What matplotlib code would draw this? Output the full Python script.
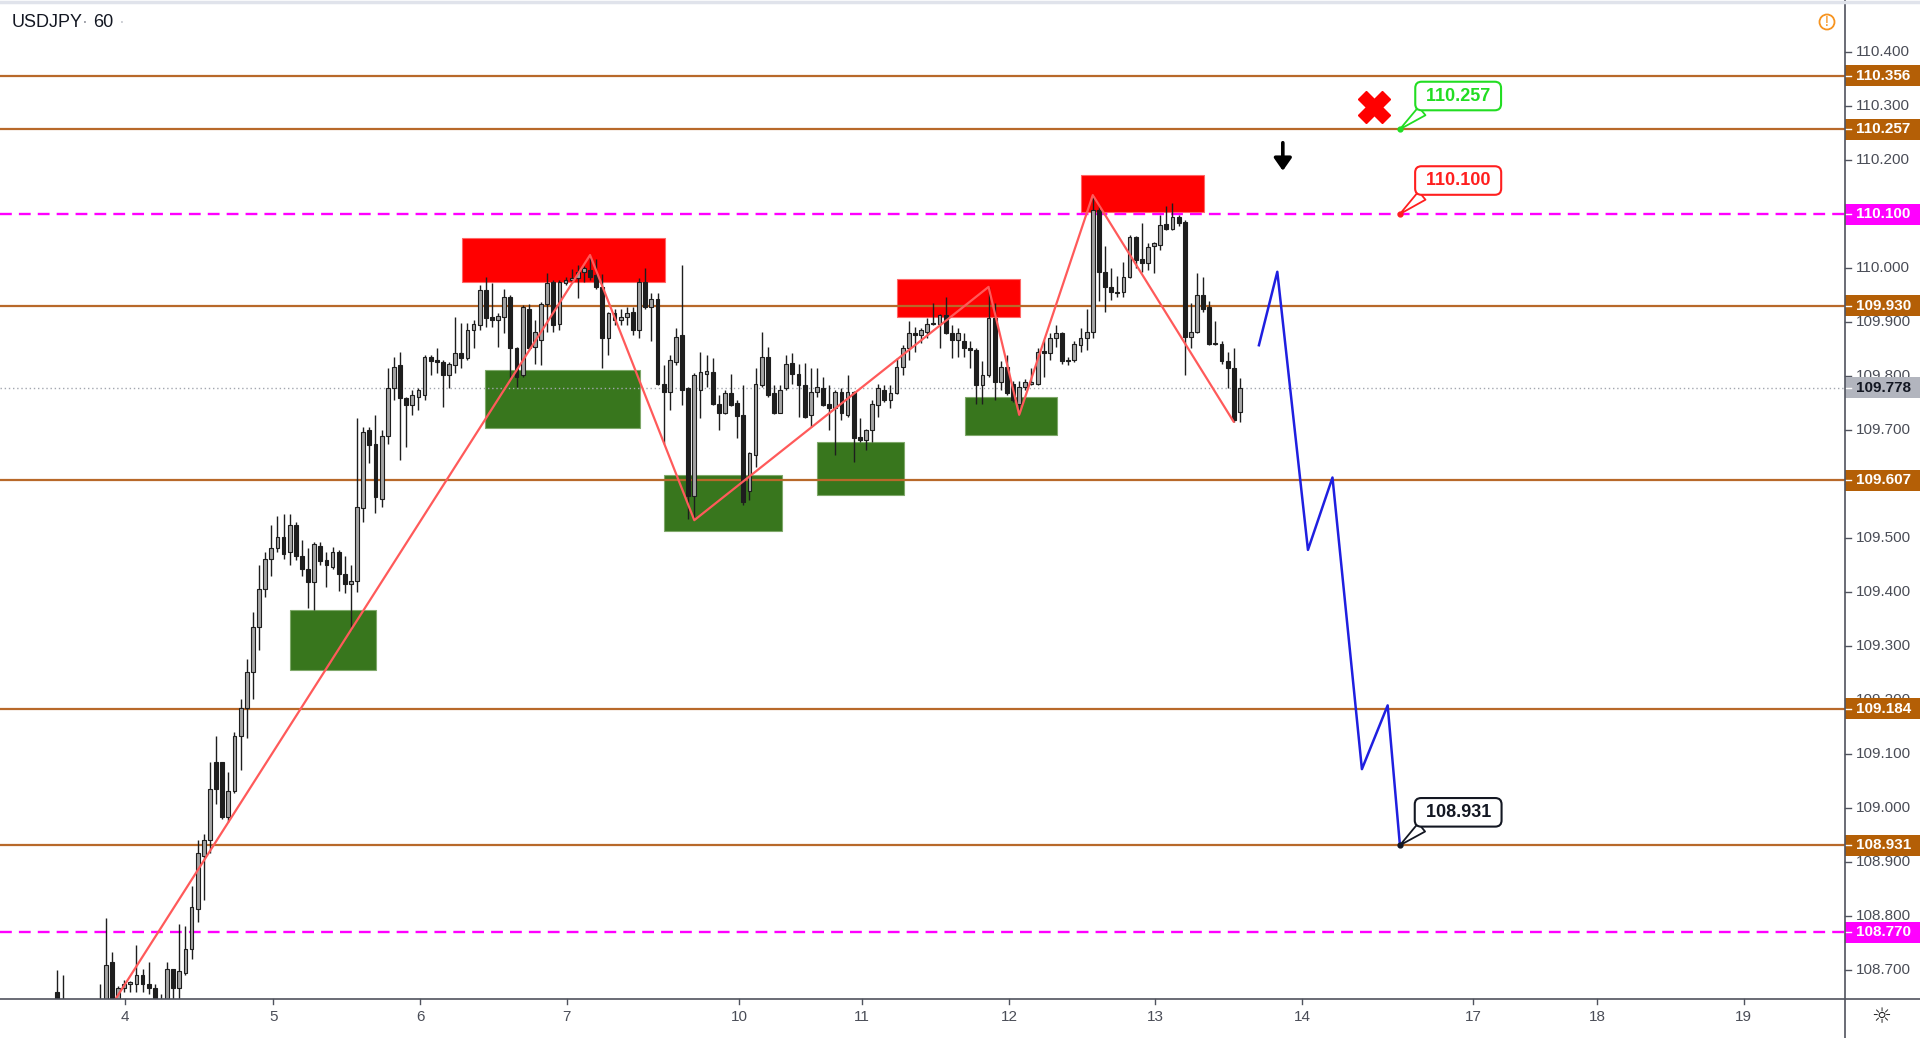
import matplotlib
matplotlib.use("Agg")
import matplotlib.pyplot as plt
import matplotlib.transforms as mtrans
from matplotlib.patches import Rectangle, Circle
from matplotlib.lines import Line2D
import numpy as np

# ---------------- data ----------------
symbol = "USDJPY"
interval = "60"

opens = [108.66,108.64,108.62,108.59,108.58,108.60,108.57,108.61,108.64,108.714,108.644,108.667,108.674,108.674,108.690,108.674,108.667,108.644,108.644,108.702,
108.667,108.694,108.738,108.813,108.912,108.940,109.086,109.086,108.983,109.031,109.133,109.185,109.252,109.335,109.406,109.462,109.482,109.501,109.474,109.525,
109.466,109.442,109.418,109.486,109.460,109.446,109.475,109.434,109.414,109.420,109.555,109.700,109.675,109.573,109.688,109.777,109.820,109.759,109.746,109.762,
109.765,109.836,109.830,109.826,109.802,109.820,109.843,109.833,109.885,109.894,109.959,109.910,109.904,109.910,109.947,109.851,109.802,109.925,109.854,109.866,
109.934,109.975,109.897,109.973,109.978,109.981,109.993,109.996,109.987,109.965,109.870,109.916,109.904,109.910,109.919,109.885,109.975,109.927,109.942,109.786,
109.771,109.826,109.876,109.777,109.577,109.774,109.804,109.808,109.748,109.732,109.769,109.750,109.728,109.587,109.654,109.783,109.836,109.768,109.732,109.777,
109.825,109.804,109.783,109.728,109.771,109.777,109.748,109.740,109.771,109.728,109.771,109.687,109.681,109.700,109.746,109.775,109.755,109.768,109.817,109.851,
109.879,109.876,109.882,109.899,109.897,109.913,109.879,109.867,109.864,109.851,109.848,109.783,109.802,109.907,109.789,109.817,109.786,109.749,109.780,109.786,
109.786,109.847,109.843,109.870,109.879,109.830,109.830,109.857,109.870,109.882,110.107,109.993,109.965,109.956,109.956,109.984,110.057,110.016,110.009,110.040,
110.043,110.082,110.073,110.095,110.086,109.873,109.882,109.950,109.928,109.862,109.860,109.827,109.814,109.734]
highs = [108.70,108.69,108.63,108.62,108.61,108.63,108.62,108.674,108.797,108.734,108.67,108.682,108.68,108.746,108.702,108.714,108.674,108.655,108.714,108.702,
108.785,108.781,108.856,108.940,108.951,109.086,109.133,109.086,109.066,109.141,109.201,109.276,109.363,109.450,109.474,109.525,109.541,109.545,109.545,109.530,
109.497,109.482,109.492,109.493,109.474,109.483,109.478,109.466,109.450,109.722,109.706,109.706,109.728,109.700,109.814,109.836,109.845,109.762,109.774,109.777,
109.839,109.839,109.851,109.830,109.826,109.909,109.898,109.899,109.904,109.968,109.983,109.972,109.916,109.961,109.950,109.854,109.931,109.934,109.904,109.937,
109.990,109.978,109.978,109.984,109.999,110.006,110.004,110.024,110.016,109.989,109.918,109.925,109.925,109.928,109.928,109.981,110.000,109.953,109.953,109.820,
109.839,109.888,110.006,109.780,109.805,109.845,109.839,109.833,109.765,109.774,109.804,109.755,109.783,109.660,109.814,109.882,109.854,109.783,109.783,109.839,
109.842,109.823,109.825,109.814,109.814,109.799,109.783,109.774,109.777,109.802,109.773,109.722,109.702,109.755,109.786,109.783,109.783,109.833,109.857,109.901,
109.891,109.888,109.907,109.935,109.915,109.947,109.894,109.888,109.879,109.864,109.851,109.827,109.965,109.935,109.827,109.839,109.790,109.790,109.795,109.814,
109.851,109.867,109.879,109.894,109.881,109.835,109.864,109.888,109.925,110.135,110.117,110.040,110.000,109.985,110.012,110.061,110.059,110.083,110.046,110.049,
110.098,110.114,110.121,110.098,110.089,109.935,109.990,109.984,109.938,109.901,109.864,109.845,109.851,109.796]
lows = [108.61,108.60,108.57,108.55,108.54,108.56,108.55,108.60,108.62,108.62,108.63,108.66,108.66,108.66,108.66,108.655,108.62,108.62,108.63,108.64,
108.64,108.69,108.72,108.789,108.829,108.916,109.007,108.979,108.975,109.027,109.070,109.129,109.201,109.292,109.391,109.430,109.474,109.462,109.450,109.460,
109.430,109.371,109.367,109.450,109.410,109.442,109.402,109.398,109.330,109.400,109.530,109.638,109.546,109.558,109.675,109.755,109.645,109.669,109.728,109.737,
109.756,109.802,109.805,109.743,109.777,109.805,109.814,109.830,109.851,109.885,109.891,109.891,109.854,109.879,109.792,109.780,109.799,109.848,109.823,109.820,
109.882,109.882,109.885,109.968,109.972,109.944,109.975,109.978,109.961,109.814,109.839,109.894,109.894,109.894,109.876,109.870,109.925,109.864,109.783,109.675,
109.737,109.820,109.746,109.536,109.533,109.722,109.780,109.746,109.700,109.730,109.744,109.686,109.561,109.570,109.632,109.780,109.762,109.729,109.731,109.774,
109.786,109.725,109.722,109.706,109.762,109.744,109.700,109.654,109.719,109.725,109.641,109.678,109.663,109.678,109.725,109.752,109.740,109.766,109.802,109.830,
109.845,109.861,109.870,109.894,109.851,109.877,109.833,109.836,109.836,109.814,109.749,109.749,109.799,109.756,109.774,109.765,109.752,109.728,109.775,109.784,
109.783,109.799,109.830,109.854,109.823,109.820,109.826,109.845,109.848,109.870,109.938,109.919,109.941,109.947,109.947,109.981,110.000,109.993,109.996,109.990,
110.033,110.070,110.071,110.078,109.802,109.851,109.879,109.919,109.857,109.857,109.823,109.777,109.715,109.715]
closes = [108.64,108.62,108.59,108.58,108.60,108.57,108.61,108.64,108.71,108.644,108.667,108.674,108.678,108.690,108.674,108.667,108.644,108.64,108.702,108.667,
108.698,108.738,108.817,108.916,108.940,109.035,109.035,108.983,109.031,109.133,109.185,109.252,109.335,109.406,109.462,109.482,109.501,109.470,109.525,109.466,
109.442,109.418,109.489,109.458,109.450,109.475,109.434,109.414,109.420,109.558,109.697,109.672,109.576,109.688,109.777,109.817,109.759,109.746,109.765,109.774,
109.836,109.828,109.826,109.802,109.823,109.843,109.833,109.885,109.896,109.959,109.907,109.904,109.911,109.947,109.851,109.799,109.928,109.851,109.882,109.934,
109.973,109.894,109.975,109.978,109.981,109.993,110.000,109.984,109.965,109.870,109.916,109.904,109.910,109.917,109.885,109.975,109.928,109.942,109.786,109.771,
109.830,109.872,109.774,109.577,109.802,109.808,109.810,109.749,109.732,109.768,109.746,109.726,109.567,109.658,109.786,109.836,109.765,109.732,109.775,109.823,
109.804,109.783,109.725,109.771,109.780,109.746,109.740,109.771,109.731,109.771,109.685,109.681,109.700,109.748,109.777,109.755,109.768,109.817,109.851,109.880,
109.876,109.885,109.896,109.896,109.913,109.879,109.867,109.879,109.851,109.848,109.783,109.802,109.907,109.789,109.817,109.768,109.756,109.780,109.789,109.789,
109.845,109.843,109.870,109.879,109.827,109.827,109.860,109.870,109.882,110.107,109.993,109.965,109.956,109.954,109.984,110.057,110.015,110.009,110.038,110.046,
110.080,110.073,110.095,110.083,109.873,109.882,109.950,109.925,109.860,109.859,109.827,109.814,109.719,109.778]

last_price = 109.778
brown_levels = [110.356, 110.257, 109.930, 109.607, 109.184, 108.931]
magenta_levels = [110.100, 108.770]

# supply / demand zones: (x0, x1, y0, y1) in bar units / price
red_zones = [(66.1, 99.2, 109.975, 110.055), (137.0, 157.1, 109.910, 109.979), (167.0, 187.2, 110.104, 110.172)]
green_zones = [(38.1, 52.1, 109.256, 109.367), (69.9, 95.2, 109.703, 109.811), (99.1, 118.3, 109.513, 109.617),
               (124.0, 138.2, 109.580, 109.678), (148.1, 163.1, 109.691, 109.761)]

zigzag_x = [7.0, 87.0, 104.0, 152.0, 157.0, 169.0, 192.0]
zigzag_y = [108.60, 110.024, 109.533, 109.965, 109.728, 110.135, 109.715]

proj_x = [196.1, 199.1, 204.1, 208.1, 212.9, 217.1, 219.1]
proj_y = [109.857, 109.993, 109.478, 109.612, 109.072, 109.190, 108.931]

callout_x = 219.1
callouts = [(110.257, "110.257", "#22dd22"), (110.100, "110.100", "#ff1f1f"), (108.931, "108.931", "#131722")]
callout_text_y = [110.3185, 110.162, 108.992]

price_ticks = [108.7, 108.8, 108.9, 109.0, 109.1, 109.2, 109.3, 109.4, 109.5, 109.6, 109.7, 109.8,
               109.9, 110.0, 110.1, 110.2, 110.3, 110.4]
date_labels = ["4", "5", "6", "7", "10", "11", "12", "13", "14", "17", "18", "19"]
date_pos = [11.2, 35.3, 59.3, 83.2, 111.3, 131.4, 155.4, 179.2, 203.2, 231.0, 251.3, 275.2]

# ---------------- figure ----------------
W, H = 1920, 1038
AX_R, AX_B = 1845, 999
fig = plt.figure(figsize=(W / 100, H / 100), dpi=100)
fig.patch.set_facecolor("white")
ax = fig.add_axes([0, 1 - AX_B / H, AX_R / W, AX_B / H])
ax.set_xlim(-9.25, 291.7)
ax.set_ylim(108.6463, 110.4963)
ax.axis("off")

brown = "#b45f06"
magenta = "#ff00ff"

# zones
for x0, x1, y0, y1 in red_zones:
    ax.add_patch(Rectangle((x0, y0), x1 - x0, y1 - y0, facecolor="#ff0000", edgecolor="#ff6666", lw=0.8, zorder=2))
for x0, x1, y0, y1 in green_zones:
    ax.add_patch(Rectangle((x0, y0), x1 - x0, y1 - y0, facecolor="#38761d", edgecolor="#7fa86a", lw=0.8, zorder=2))

# levels
for v in brown_levels:
    ax.axhline(v, color="#b8692a", lw=1.6, zorder=3)
for v in magenta_levels:
    ax.axhline(v, color=magenta, lw=1.7, ls=(0, (5, 3)), zorder=3)
ax.axhline(last_price, color="#a3a6af", lw=1.0, ls=(0, (1, 2)), zorder=3)

# candles
o = np.array(opens); h = np.array(highs); l = np.array(lows); c = np.array(closes)
k = np.arange(len(o))
up = c >= o
ax.vlines(k, l, h, color="#1e1e1e", lw=1.0, zorder=5)
bb = np.minimum(o, c)
bh = np.maximum(np.abs(c - o), 0.0018)
ax.bar(k[up], bh[up], bottom=bb[up], width=0.62, color="#a4a4a4", edgecolor="#1e1e1e", lw=0.8, zorder=6)
ax.bar(k[~up], bh[~up], bottom=bb[~up], width=0.62, color="#1e1e1e", edgecolor="#1e1e1e", lw=0.8, zorder=6)

# zigzag and projection
ax.plot(zigzag_x, zigzag_y, color="#ff5a5a", lw=1.6, zorder=7, solid_capstyle="round")
ax.plot(proj_x, proj_y, color="#1f1fe0", lw=1.8, zorder=7)

# callouts
for (yv, txt, col), ty in zip(callouts, callout_text_y):
    ax.annotate(" " + txt + " ", xy=(callout_x, yv), xytext=(228.6, ty), textcoords="data",
                ha="center", va="center", color=col, fontsize=13, family="Liberation Sans", weight="bold",
                bbox=dict(boxstyle="round,pad=0.32,rounding_size=0.35", fc="white", ec=col, lw=1.5),
                arrowprops=dict(arrowstyle="wedge,tail_width=0.6,shrink_factor=0.5", fc="white", ec=col,
                                lw=1.3, relpos=(0.12, 0.0), shrinkA=0, shrinkB=0),
                zorder=9, annotation_clip=False)
    ax.plot(callout_x, yv, "o", ms=3.5, color=col, zorder=9)

# red X and arrow
ax.plot(214.9, 110.299, marker="X", ms=23, color="#ff0000", mec="#ff0000", zorder=9)
ax.annotate("", xy=(200.0, 110.180), xytext=(200.0, 110.232),
            arrowprops=dict(arrowstyle="-|>,head_width=0.35,head_length=0.5", color="black", lw=2.6,
                            mutation_scale=15, shrinkA=0, shrinkB=0), zorder=9)

# ---------------- axes decorations ----------------
axis_col = "#50535e"
fig.add_artist(Line2D([0, 1], [1 - AX_B / H] * 2, transform=fig.transFigure, color=axis_col, lw=1.2))
fig.add_artist(Line2D([AX_R / W] * 2, [0, 1], transform=fig.transFigure, color=axis_col, lw=1.2))
fig.add_artist(Line2D([0, 1], [1 - 1.5 / H] * 2, transform=fig.transFigure, color="#e0e3eb", lw=2.5))

ytrans = mtrans.blended_transform_factory(fig.transFigure, ax.transData)
for v in price_ticks:
    ax.add_artist(Line2D([AX_R / W, (AX_R + 6) / W], [v, v], transform=ytrans, color=axis_col, lw=1.0, clip_on=False))
    ax.text(1856 / W, v, f"{v:.3f}", transform=ytrans, ha="left", va="center", fontsize=11,
            color="#4a4d57", family="Liberation Sans", clip_on=False, zorder=8)

hh = 10.5 / 540
def price_label(v, fc, tc):
    ax.add_patch(Rectangle((AX_R / W, v - hh), (W - AX_R) / W, 2 * hh, transform=ytrans, facecolor=fc,
                           edgecolor="none", clip_on=False, zorder=10))
    ax.add_artist(Line2D([AX_R / W, (AX_R + 6) / W], [v, v], transform=ytrans, color="white", lw=1.0,
                         clip_on=False, zorder=11))
    ax.text(1856 / W, v, f"{v:.3f}", transform=ytrans, ha="left", va="center", fontsize=11,
            color=tc, family="Liberation Sans", weight="bold", clip_on=False, zorder=11)

for v in brown_levels:
    price_label(v, brown, "white")
for v in magenta_levels:
    price_label(v, magenta, "white")
price_label(last_price, "#b2b5be", "#131722")

xtrans = mtrans.blended_transform_factory(ax.transData, fig.transFigure)
for lab, p in zip(date_labels, date_pos):
    ax.add_artist(Line2D([p, p], [1 - AX_B / H, 1 - (AX_B + 5) / H], transform=xtrans, color=axis_col,
                         lw=1.0, clip_on=False))
    ax.text(p, 1 - 1017 / H, lab, transform=xtrans, ha="center", va="center", fontsize=11,
            color="#4a4d57", family=["Liberation Sans Narrow", "Liberation Sans"], clip_on=False)

# title
ty = 1 - 22.5 / H
fig.text(11.5 / W, ty, symbol, fontsize=13, color="#131722", va="center", ha="left", family="Liberation Sans")
fig.text(85 / W, ty, "·", fontsize=13, color="#9598a1", va="center", ha="center", family="Liberation Sans")
fig.text(93 / W, ty, interval, fontsize=13, color="#131722", va="center", ha="left", family="Liberation Sans")
fig.text(121.5 / W, ty, "·", fontsize=13, color="#c8cad0", va="center", ha="center", family="Liberation Sans")

# warning icon
fig.add_artist(Circle((1827 / 100, (H - 22) / 100), 0.075, transform=fig.dpi_scale_trans, facecolor="white",
                      edgecolor="#f7931e", lw=1.3))
fig.text(1827 / W, 1 - 22 / H, "!", fontsize=10, color="#f7931e", ha="center", va="center", family="DejaVu Sans")

# settings icon
fig.text(1881 / W, 1 - 1017 / H, "☼", fontsize=16, color="#222222", ha="center", va="center", family="DejaVu Sans")

fig.savefig("out.png", dpi=100, facecolor="white")
